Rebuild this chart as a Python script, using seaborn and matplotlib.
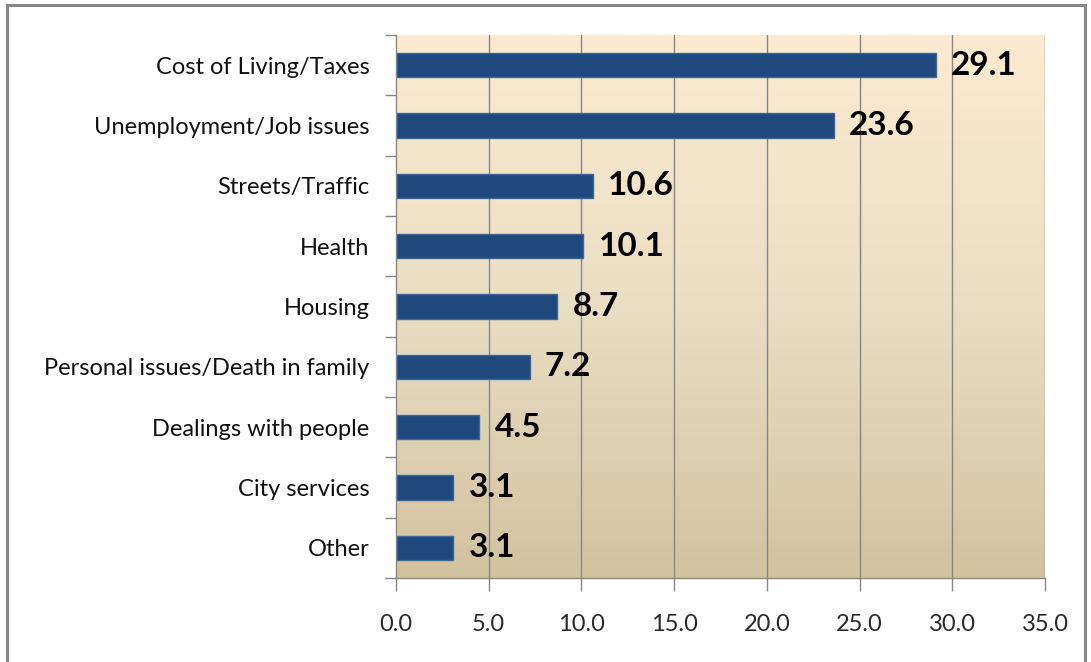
import matplotlib
matplotlib.use('Agg')

import numpy as np
import pandas as pd
import matplotlib.pyplot as plt
import seaborn as sns
from matplotlib.colors import LinearSegmentedColormap
from matplotlib.patches import Rectangle

# data
categories = ["Cost of Living/Taxes", "Unemployment/Job issues", "Streets/Traffic",
              "Health", "Housing", "Personal issues/Death in family",
              "Dealings with people", "City services", "Other"]
values = [29.1, 23.6, 10.6, 10.1, 8.7, 7.2, 4.5, 3.1, 3.1]
x_ticks = [0, 5, 10, 15, 20, 25, 30, 35]

df = pd.DataFrame({"category": categories, "value": values})

sns.set_theme(style="white")
plt.rcParams['font.family'] = ['Lato', 'DejaVu Sans']

fig = plt.figure(figsize=(10.91, 6.62), dpi=100)
ax = fig.add_axes([396 / 1091, 1 - 578 / 662, (1045 - 396) / 1091, (578 - 35) / 662])

# gradient background, cream at top to tan at bottom
grad = LinearSegmentedColormap.from_list("bg", ["#D2C39F", "#E9DEC3", "#FCEBD0"])
ax.imshow(np.linspace(0, 1, 256).reshape(-1, 1), cmap=grad, origin="lower",
          extent=[0, 1, 0, 1], transform=ax.transAxes, aspect="auto", zorder=0)

sns.barplot(data=df, x="value", y="category", orient="h", color="#1F497D",
            width=0.4, edgecolor="#3D6699", linewidth=1, saturation=1, ax=ax, zorder=3)

for i, v in enumerate(values):
    ax.annotate(f"{v:.1f}", xy=(v, i), xytext=(11, 0), textcoords="offset points",
                ha="left", va="center", fontsize=24, fontweight="bold", color="black")

ax.set_xlim(0, 35)
ax.set_ylim(8.5, -0.5)
ax.set_xticks(x_ticks)
ax.set_xticklabels([f"{t:.1f}" for t in x_ticks], fontsize=17, color="#2a2a2a")
ax.set_yticks(range(len(categories)))
ax.set_yticklabels(categories, fontsize=17, color="#111111")
ax.set_yticks(np.arange(-0.5, len(categories), 1), minor=True)
ax.set_xlabel("")
ax.set_ylabel("")

for t in x_ticks[1:]:
    ax.axvline(t, color="#878787", linewidth=1, zorder=1)

for side in ["top", "right"]:
    ax.spines[side].set_visible(False)
for side in ["left", "bottom"]:
    ax.spines[side].set_color("#878787")
    ax.spines[side].set_linewidth(1)
    ax.spines[side].set_zorder(4)

ax.tick_params(axis="x", which="major", bottom=True, length=9, width=1,
               color="#878787", pad=17, direction="out")
ax.tick_params(axis="y", which="major", left=False, pad=13)
ax.tick_params(axis="y", which="minor", left=True, length=8, width=1,
               color="#878787", direction="out")

# outer chart border
fig.patches.append(Rectangle((7 / 1091, -0.02), (1085 - 7) / 1091, 1.02 - 5 / 662,
                             transform=fig.transFigure, fill=False,
                             edgecolor="#878787", linewidth=2.2))

fig.savefig("out.png", dpi=100)
